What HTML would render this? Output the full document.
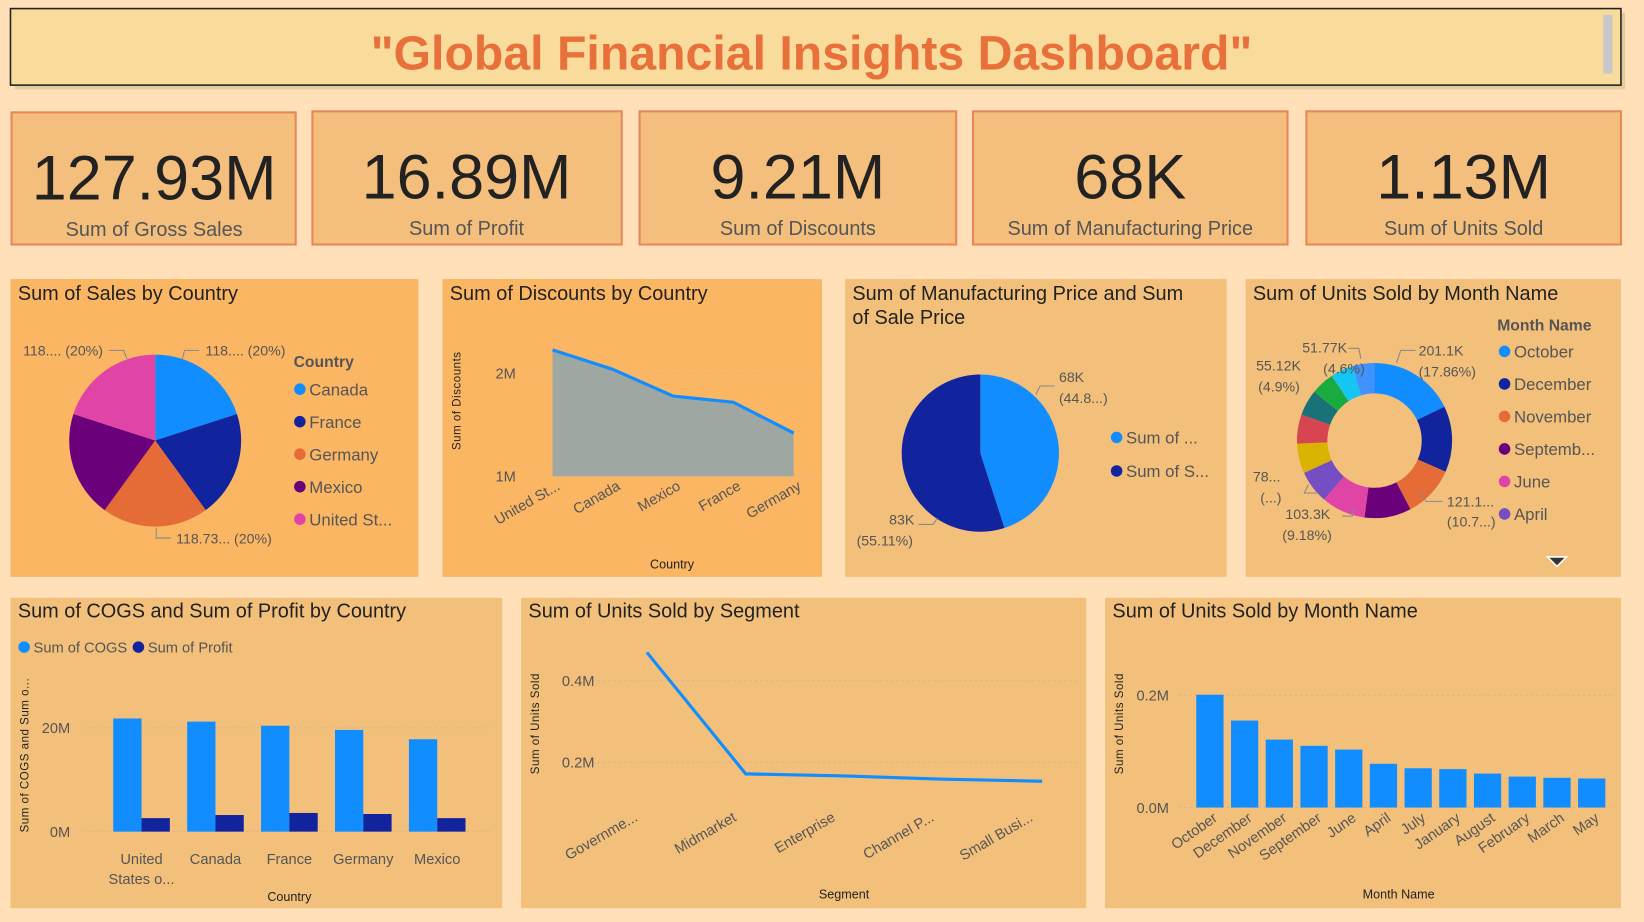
<!DOCTYPE html>
<html><head><meta charset="utf-8">
<style>
html,body{margin:0;padding:0;background:#FFE0B8;width:1644px;height:922px;overflow:hidden}
svg{display:block;font-family:"Liberation Sans",sans-serif}
</style></head>
<body>
<svg id="root" width="1644" height="922" viewBox="0 0 1568 879">
  <rect x="0" y="0" width="1568" height="879" fill="#FFE0B8"/>
  <!-- title -->
  <g>
    <rect x="14" y="12" width="1536" height="73" fill="#C9B48A" opacity="0.5"/>
    <rect x="10" y="8" width="1536" height="73" fill="#F9DC9C" stroke="#222" stroke-width="1.5"/>
    <rect x="1529" y="14" width="9" height="56" fill="#C8C8C8"/>
    <text x="774" y="66" text-anchor="middle" font-size="46" font-weight="bold" fill="#E8703A">"Global Financial Insights Dashboard"</text>
  </g>
  <!-- KPI cards -->
  <g>
    <rect x="11" y="107" width="271" height="126" fill="#F4BF7C" stroke="#E8875A" stroke-width="2"/>
    <text x="147" y="190" text-anchor="middle" font-size="60" fill="#222">127.93M</text>
    <text x="147" y="225" text-anchor="middle" font-size="19" fill="#555">Sum of Gross Sales</text>
  </g>
  <g>
    <rect x="298" y="106" width="295" height="127" fill="#F4BF7C" stroke="#E8875A" stroke-width="2"/>
    <text x="445" y="189" text-anchor="middle" font-size="60" fill="#222">16.89M</text>
    <text x="445" y="224" text-anchor="middle" font-size="19" fill="#555">Sum of Profit</text>
  </g>
  <g>
    <rect x="610" y="106" width="302" height="127" fill="#F4BF7C" stroke="#E8875A" stroke-width="2"/>
    <text x="761" y="189" text-anchor="middle" font-size="60" fill="#222">9.21M</text>
    <text x="761" y="224" text-anchor="middle" font-size="19" fill="#555">Sum of Discounts</text>
  </g>
  <g>
    <rect x="928" y="106" width="300" height="127" fill="#F4BF7C" stroke="#E8875A" stroke-width="2"/>
    <text x="1078" y="189" text-anchor="middle" font-size="60" fill="#222">68K</text>
    <text x="1078" y="224" text-anchor="middle" font-size="19" fill="#555">Sum of Manufacturing Price</text>
  </g>
  <g>
    <rect x="1246" y="106" width="300" height="127" fill="#F4BF7C" stroke="#E8875A" stroke-width="2"/>
    <text x="1396" y="189" text-anchor="middle" font-size="60" fill="#222">1.13M</text>
    <text x="1396" y="224" text-anchor="middle" font-size="19" fill="#555">Sum of Units Sold</text>
  </g>
  <!-- panels -->
  <rect x="10" y="266" width="389" height="284" fill="#FBB664"/>
  <rect x="422" y="266" width="362" height="284" fill="#FBB664"/>
  <rect x="806" y="266" width="364" height="284" fill="#F3C07B"/>
  <rect x="1188" y="266" width="358" height="284" fill="#F3C07B"/>
  <rect x="10" y="570" width="469" height="296" fill="#F3C07B"/>
  <rect x="497" y="570" width="539" height="296" fill="#F3C07B"/>
  <rect x="1054" y="570" width="492" height="296" fill="#F3C07B"/>
  <g font-size="19" fill="#222">
    <text x="17" y="286">Sum of Sales by Country</text>
    <text x="429" y="286">Sum of Discounts by Country</text>
    <text x="813" y="286">Sum of Manufacturing Price and Sum</text>
    <text x="813" y="309">of Sale Price</text>
    <text x="1195" y="286">Sum of Units Sold by Month Name</text>
    <text x="17" y="589">Sum of COGS and Sum of Profit by Country</text>
    <text x="504" y="589">Sum of Units Sold by Segment</text>
    <text x="1061" y="589">Sum of Units Sold by Month Name</text>
  </g>
  <g id="charts"></g>
</svg>
<script>
// ---- data ----
const salesCountries = ["Canada","France","Germany","Mexico","United St..."];
const salesShares = [20,20,20,20,20];
const discCountries = ["United St...","Canada","Mexico","France","Germany"];
const discValues = [2.23,2.04,1.78,1.72,1.42];
const discTicks = [1,2];
const priceLabels = ["Sum of ...","Sum of S..."];
const priceValues = [68,83];
const months = ["October","December","November","September","June","April","July","January","August","February","March","May"];
const monthUnits = [201.1,155,121.1,110,103.3,78,70,68.5,60.5,55.12,53,51.77];
const cogsCountries = ["United States o...","Canada","France","Germany","Mexico"];
const cogsValues = [21.8,21.2,20.4,19.6,17.8];
const profitValues = [2.6,3.2,3.6,3.4,2.6];
const cogsTicks = [0,20];
const segments = ["Governme...","Midmarket","Enterprise","Channel P...","Small Busi..."];
const segmentUnits = [0.469,0.172,0.167,0.159,0.154];
const segTicks = [0.2,0.4];
const monthBarTicks = [0,0.2];

const NS="http://www.w3.org/2000/svg";
const G=document.getElementById('charts');
function mk(tag,attrs,parent,txt){const e=document.createElementNS(NS,tag);for(const k in attrs)e.setAttribute(k,attrs[k]);if(txt!==undefined)e.textContent=txt;(parent||G).appendChild(e);return e;}
const pal=["#118DFF","#12239E","#E66C37","#6B007B","#E044A7","#744EC2","#D9B300","#D64550","#197278","#1AAB40","#15C6F4","#4092FF"];
function arcPath(cx,cy,r,ri,a0,a1){
  const p=(a,rr)=>[cx+rr*Math.sin(a),cy-rr*Math.cos(a)];
  const lg=(a1-a0)>Math.PI?1:0;
  const [x0,y0]=p(a0,r),[x1,y1]=p(a1,r);
  if(!ri) return `M${cx},${cy}L${x0},${y0}A${r},${r} 0 ${lg} 1 ${x1},${y1}Z`;
  const [x2,y2]=p(a1,ri),[x3,y3]=p(a0,ri);
  return `M${x0},${y0}A${r},${r} 0 ${lg} 1 ${x1},${y1}L${x2},${y2}A${ri},${ri} 0 ${lg} 0 ${x3},${y3}Z`;
}
function ytitle(x,y,t){const e=mk('text',{x:x,y:y,transform:`rotate(-90 ${x} ${y})`,'text-anchor':'middle','font-size':11,fill:'#222','letter-spacing':'0.5'},G,t);return e;}

// ---- chart 1: sales pie ----
{
  const cx=148,cy=420,r=82,tot=salesShares.reduce((a,b)=>a+b,0);let a=0;
  salesShares.forEach((v,i)=>{const a1=a+v/tot*2*Math.PI;
    const s=mk('path',{d:arcPath(cx,cy,r,0,a,a1),fill:pal[i]});
    
    
    a=a1;});
  const lab=mk('g',{fill:'#555','font-size':13.5,stroke:'none'});
  mk('text',{x:22,y:339},lab,"118.... (20%)");
  mk('text',{x:196,y:339},lab,"118.... (20%)");
  mk('text',{x:168,y:518},lab,"118.73... (20%)");
  mk('path',{d:"M104,334h14l3,8M190,334h-14l-2,8M163,513h-14v-10",stroke:'#888',fill:'none'});
  mk('text',{x:280,y:350,'font-size':15,'font-weight':'bold',fill:'#555'},G,"Country");
  salesCountries.forEach((c,i)=>{const y=371+i*31;
    const d=mk('circle',{cx:286,cy:y,r:5.5,fill:pal[i]});
    
    
    const t=mk('text',{x:295,y:y+6,'font-size':16,fill:'#555'},G,c);
    
    
  });
}
// ---- chart 2: discounts area ----
{
  const x0=527,x1=757,yv=v=>454-(v-1)*98;const xs=i=>x0+i*(x1-x0)/(discValues.length-1);
  discTicks.forEach(t=>{mk('line',{x1:x0-10,x2:782,y1:yv(t),y2:yv(t),stroke:'#D9B38A','stroke-dasharray':'2,3'});
    mk('text',{x:492,y:yv(t)+5,'text-anchor':'end','font-size':14,fill:'#555'},G,t+'M');});
  let d=`M${xs(0)},${yv(1)}`;discValues.forEach((v,i)=>d+=`L${xs(i)},${yv(v)}`);d+=`L${xs(discValues.length-1)},${yv(1)}Z`;
  const ar=mk('path',{d:d,fill:'#9EA7A2'});
  
  
  const ln=mk('polyline',{points:discValues.map((v,i)=>xs(i)+','+yv(v)).join(' '),fill:'none',stroke:'#118DFF','stroke-width':3});
  
  
  discCountries.forEach((c,i)=>{const x=xs(i)+8,y=466;
    const t=mk('text',{x:x,y:y,transform:`rotate(-30 ${x} ${y})`,'text-anchor':'end','font-size':14,fill:'#555'},G,c);
    
    });
  const yt=ytitle(439,382,"Sum of Discounts");
  
  
  const xt=mk('text',{x:641,y:542,'text-anchor':'middle','font-size':12,fill:'#222'},G,"Country");
  
  
}
// ---- chart 3: price pie ----
{
  const cx=935,cy=432,r=75,tot=priceValues.reduce((a,b)=>a+b,0);let a=0;const cols=["#118DFF","#12239E"];
  priceValues.forEach((v,i)=>{const a1=a+v/tot*2*Math.PI;
    const s=mk('path',{d:arcPath(cx,cy,r,0,a,a1),fill:cols[i]});
    
    a=a1;});
  const lab=mk('g',{fill:'#555','font-size':13.5});
  mk('text',{x:1010,y:364},lab,priceValues[0]+"K");
  mk('text',{x:1010,y:384},lab,"(44.8...)");
  mk('text',{x:848,y:500},lab,priceValues[1]+"K");
  mk('text',{x:817,y:520},lab,"(55.11%)");
  mk('path',{d:"M1006,368h-14l-4,8M876,500h14l4,-6",stroke:'#888',fill:'none'});
  priceLabels.forEach((c,i)=>{const y=417+i*32;
    mk('circle',{cx:1065,cy:y,r:5.5,fill:cols[i]});
    const t=mk('text',{x:1074,y:y+6,'font-size':16,fill:'#555'},G,c);
    
    });
}
// ---- chart 4: donut ----
{
  const cx=1311,cy=420,r=74,ri=45,tot=monthUnits.reduce((a,b)=>a+b,0);let a=0;
  monthUnits.forEach((v,i)=>{const a1=a+v/tot*2*Math.PI;
    const s=mk('path',{d:arcPath(cx,cy,r,ri,a,a1),fill:pal[i]});
    
    a=a1;});
  const lab=mk('g',{fill:'#555','font-size':13.5});
  [["201.1K",1353,339],["(17.86%)",1353,359],["51.77K",1242,336],["55.12K",1198,353],["(4.6%)",1262,356],["(4.9%)",1200,373],
   ["78...",1195,459],["(...)",1202,479],["103.3K",1226,495],["(9.18%)",1223,515],["121.1...",1380,483],["(10.7...)",1380,502]]
   .forEach(l=>mk('text',{x:l[1],y:l[2]},lab,l[0]));
  mk('path',{d:"M1350,334h-14l-4,12M1286,332h10l2,10M1258,470h-14l4,-8M1280,492h10l2,-8M1376,478h-16l-5,-8",stroke:'#888',fill:'none'});
  mk('text',{x:1428,y:315,'font-size':15,'font-weight':'bold',fill:'#555'},G,"Month Name");
  months.slice(0,6).forEach((m,i)=>{const y=335+i*31;const lab2=m==="September"?"Septemb...":m;
    mk('circle',{cx:1435,cy:y,r:5.5,fill:pal[i]});
    const t=mk('text',{x:1444,y:y+6,'font-size':16,fill:'#555'},G,lab2);
    
    });
  const tri=mk('path',{d:"M1476,531h18l-9,9Z",fill:'#333',stroke:'#fff','stroke-width':1.5});
  
  
}
// ---- chart 5: COGS & profit ----
{
  const y0=793,ys=v=>y0-v*99/20,gx=i=>135+i*70.5,bw=27;
  cogsTicks.forEach(t=>{mk('line',{x1:80,x2:470,y1:ys(t),y2:ys(t),stroke:'#D9B38A','stroke-dasharray':'2,3'});
    mk('text',{x:67,y:ys(t)+5,'text-anchor':'end','font-size':14,fill:'#555'},G,t+'M');});
  cogsValues.forEach((v,i)=>{const b=mk('rect',{x:gx(i)-bw,y:ys(v),width:bw,height:y0-ys(v),fill:'#118DFF'});
    
    });
  profitValues.forEach((v,i)=>{const b=mk('rect',{x:gx(i),y:ys(v),width:bw,height:y0-ys(v),fill:'#12239E'});
    
    });
  cogsCountries.forEach((c,i)=>{
    if(c.indexOf(' ')>0&&i===0){mk('text',{x:gx(i),y:824,'text-anchor':'middle','font-size':14,fill:'#555'},G,"United");
      mk('text',{x:gx(i),y:843,'text-anchor':'middle','font-size':14,fill:'#555'},G,"States o...");}
    else{const t=mk('text',{x:gx(i),y:824,'text-anchor':'middle','font-size':14,fill:'#555'},G,c);
      
      }});
  mk('circle',{cx:23,cy:617,r:5.5,fill:'#118DFF'});
  mk('text',{x:32,y:622,'font-size':14,fill:'#555'},G,"Sum of COGS");
  mk('circle',{cx:132,cy:617,r:5.5,fill:'#12239E'});
  mk('text',{x:141,y:622,'font-size':14,fill:'#555'},G,"Sum of Profit");
  const yt=ytitle(27,720,"Sum of COGS and Sum o...");
  
  
  mk('text',{x:276,y:859,'text-anchor':'middle','font-size':12,fill:'#222'},G,"Country");
}
// ---- chart 6: segment line ----
{
  const y0=805,ys=v=>y0-v*390,xs=i=>617+i*94.25;
  segTicks.forEach(t=>{mk('line',{x1:560,x2:1030,y1:ys(t),y2:ys(t),stroke:'#D9B38A','stroke-dasharray':'2,3'});
    mk('text',{x:567,y:ys(t)+5,'text-anchor':'end','font-size':14,fill:'#555'},G,t+'M');});
  const ln=mk('polyline',{points:segmentUnits.map((v,i)=>xs(i)+','+ys(v)).join(' '),fill:'none',stroke:'#118DFF','stroke-width':3});
  
  
  segments.forEach((s,i)=>{const x=xs(i)-8,y=782;
    const t=mk('text',{x:x,y:y,transform:`rotate(-30 ${x} ${y})`,'text-anchor':'end','font-size':14,fill:'#555'},G,s);
    
    });
  const yt=ytitle(514,690,"Sum of Units Sold");
  
  
  mk('text',{x:805,y:857,'text-anchor':'middle','font-size':12,fill:'#222'},G,"Segment");
}
// ---- chart 7: month bars ----
{
  const y0=770,ys=v=>y0-v/200*107,xs=i=>1141+i*33.1,bw=26;
  monthBarTicks.forEach(t=>{mk('line',{x1:1125,x2:1540,y1:y0-t*535,y2:y0-t*535,stroke:'#D9B38A','stroke-dasharray':'2,3'});
    mk('text',{x:1115,y:y0-t*535+5,'text-anchor':'end','font-size':14,fill:'#555'},G,t.toFixed(1)+'M');});
  monthUnits.forEach((v,i)=>{const b=mk('rect',{x:xs(i),y:ys(v),width:bw,height:y0-ys(v),fill:'#118DFF'});
    
    });
  months.forEach((m,i)=>{const x=xs(i)+bw/2+8,y=782;
    const t=mk('text',{x:x,y:y,transform:`rotate(-35 ${x} ${y})`,'text-anchor':'end','font-size':14,fill:'#555'},G,m);
    
    });
  const yt=ytitle(1071,690,"Sum of Units Sold");
  
  
  mk('text',{x:1334,y:857,'text-anchor':'middle','font-size':12,fill:'#222'},G,"Month Name");
}
</script>
</body></html>
